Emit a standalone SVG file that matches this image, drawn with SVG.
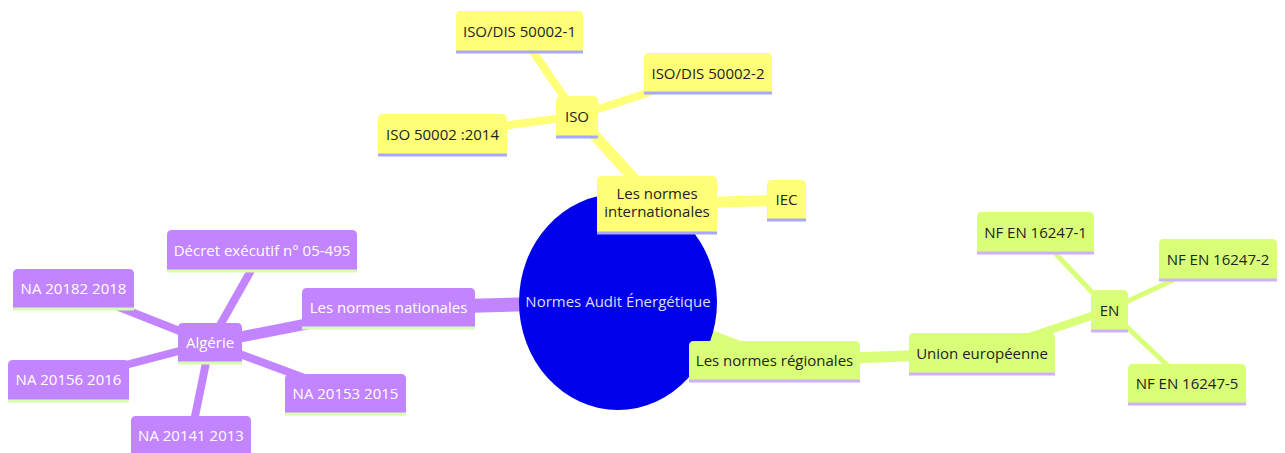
<svg xmlns="http://www.w3.org/2000/svg" width="1285" height="453" viewBox="0 0 1285 453">
<style>
text{font-family:"Open Sans","Noto Sans","Liberation Sans",sans-serif;font-size:15px;text-anchor:middle}
.y{fill:#ffff78}.g{fill:#d9ff78}.p{fill:#c385ff}
.ly{stroke:#a8a8ff;stroke-width:3}.lg{stroke:#cdb0ff;stroke-width:3}.lp{stroke:#d6ffb0;stroke-width:3}
.ty{fill:#222}.tp{fill:#ffffff}
.ey{stroke:#ffff78;fill:none}.eg{stroke:#d9ff78;fill:none}.ep{stroke:#c385ff;fill:none}
.d0{stroke-width:14}.d1{stroke-width:11}.d2{stroke-width:8}.d3{stroke-width:5}
</style>
<g id="edges">
<path class="ey d0" d="M618,302 L657,204"/>
<path class="ey d1" d="M657,204 L577,116"/>
<path class="ey d1" d="M657,204 L786,200"/>
<path class="ey d2" d="M577,116 L519,31"/>
<path class="ey d2" d="M577,116 L708,73"/>
<path class="ey d2" d="M577,116 L442,134"/>
<path class="ep d0" d="M618,302 L388,308"/>
<path class="ep d1" d="M388,308 L210,343"/>
<path class="ep d2" d="M210,343 L262,251"/>
<path class="ep d2" d="M210,343 L73,289"/>
<path class="ep d2" d="M210,343 L68,380"/>
<path class="ep d2" d="M210,343 L345,393"/>
<path class="ep d2" d="M210,343 L191,436"/>
<path class="eg d0" d="M618,302 L774,361"/>
<path class="eg d1" d="M774,361 L982,353"/>
<path class="eg d2" d="M982,353 L1109,310"/>
<path class="eg d3" d="M1109,310 L1035,232"/>
<path class="eg d3" d="M1109,310 L1218,259"/>
<path class="eg d3" d="M1109,310 L1187,384"/>
</g>
<g id="root"><ellipse cx="618" cy="302" rx="99" ry="108" fill="#0000ea"/><text x="618" y="307" fill="#dcdcff">Normes Audit Énergétique</text></g>
<g id="n-intl" transform="translate(597,176)"><path class="y" d="M0 52 v-47 q0,-5 5,-5 h110 q5,0 5,5 v52 H0 Z"/><line class="ly" x1="0" y1="57" x2="120" y2="57"/><text class="ty" x="60" y="23">Les normes</text><text class="ty" x="60" y="41">internationales</text></g>
<g id="n-iso" transform="translate(556,96)"><path class="y" d="M0 36 v-31 q0,-5 5,-5 h32 q5,0 5,5 v36 H0 Z"/><line class="ly" x1="0" y1="41" x2="42" y2="41"/><text class="ty" x="21" y="26">ISO</text></g>
<g id="n-dis1" transform="translate(456,11)"><path class="y" d="M0 36 v-31 q0,-5 5,-5 h117 q5,0 5,5 v36 H0 Z"/><line class="ly" x1="0" y1="41" x2="127" y2="41"/><text class="ty" x="63.5" y="26">ISO/DIS 50002-1</text></g>
<g id="n-dis2" transform="translate(644,53)"><path class="y" d="M0 35 v-30 q0,-5 5,-5 h118 q5,0 5,5 v35 H0 Z"/><line class="ly" x1="0" y1="40" x2="128" y2="40"/><text class="ty" x="64" y="26">ISO/DIS 50002-2</text></g>
<g id="n-iso2014" transform="translate(378,114)"><path class="y" d="M0 36 v-31 q0,-5 5,-5 h119 q5,0 5,5 v36 H0 Z"/><line class="ly" x1="0" y1="41" x2="129" y2="41"/><text class="ty" x="64.5" y="26">ISO 50002 :2014</text></g>
<g id="n-iec" transform="translate(767,180)"><path class="y" d="M0 35 v-30 q0,-5 5,-5 h29 q5,0 5,5 v35 H0 Z"/><line class="ly" x1="0" y1="40" x2="39" y2="40"/><text class="ty" x="19.5" y="25">IEC</text></g>
<g id="n-nat" transform="translate(302,288)"><path class="p" d="M0 35 v-30 q0,-5 5,-5 h163 q5,0 5,5 v35 H0 Z"/><line class="lp" x1="0" y1="40" x2="173" y2="40"/><text class="tp" x="86.5" y="25">Les normes nationales</text></g>
<g id="n-alg" transform="translate(178,323)"><path class="p" d="M0 35 v-30 q0,-5 5,-5 h54 q5,0 5,5 v35 H0 Z"/><line class="lp" x1="0" y1="40" x2="64" y2="40"/><text class="tp" x="32" y="25">Algérie</text></g>
<g id="n-decret" transform="translate(167,230)"><path class="p" d="M0 36 v-31 q0,-5 5,-5 h180 q5,0 5,5 v36 H0 Z"/><line class="lp" x1="0" y1="41" x2="190" y2="41"/><text class="tp" x="95" y="26">Décret exécutif n° 05-495</text></g>
<g id="n-na20182" transform="translate(13,269)"><path class="p" d="M0 35 v-30 q0,-5 5,-5 h111 q5,0 5,5 v35 H0 Z"/><line class="lp" x1="0" y1="40" x2="121" y2="40"/><text class="tp" x="60.5" y="25">NA 20182 2018</text></g>
<g id="n-na20156" transform="translate(8,360)"><path class="p" d="M0 36 v-31 q0,-5 5,-5 h111 q5,0 5,5 v36 H0 Z"/><line class="lp" x1="0" y1="41" x2="121" y2="41"/><text class="tp" x="60.5" y="25">NA 20156 2016</text></g>
<g id="n-na20153" transform="translate(285,374)"><path class="p" d="M0 35 v-30 q0,-5 5,-5 h111 q5,0 5,5 v35 H0 Z"/><line class="lp" x1="0" y1="40" x2="121" y2="40"/><text class="tp" x="60.5" y="25">NA 20153 2015</text></g>
<g id="n-na20141" transform="translate(131,416)"><path class="p" d="M0 35 v-30 q0,-5 5,-5 h110 q5,0 5,5 v35 H0 Z"/><line class="lp" x1="0" y1="40" x2="120" y2="40"/><text class="tp" x="60" y="25">NA 20141 2013</text></g>
<g id="n-reg" transform="translate(689,341)"><path class="g" d="M0 35 v-30 q0,-5 5,-5 h161 q5,0 5,5 v35 H0 Z"/><line class="lg" x1="0" y1="40" x2="171" y2="40"/><text class="ty" x="85.5" y="25">Les normes régionales</text></g>
<g id="n-ue" transform="translate(909,333)"><path class="g" d="M0 36 v-31 q0,-5 5,-5 h136 q5,0 5,5 v36 H0 Z"/><line class="lg" x1="0" y1="41" x2="146" y2="41"/><text class="ty" x="73" y="26">Union européenne</text></g>
<g id="n-en" transform="translate(1091,290)"><path class="g" d="M0 36 v-31 q0,-5 5,-5 h27 q5,0 5,5 v36 H0 Z"/><line class="lg" x1="0" y1="41" x2="37" y2="41"/><text class="ty" x="18.5" y="26">EN</text></g>
<g id="n-nf1" transform="translate(977,212)"><path class="g" d="M0 36 v-31 q0,-5 5,-5 h107 q5,0 5,5 v36 H0 Z"/><line class="lg" x1="0" y1="41" x2="117" y2="41"/><text class="ty" x="58.5" y="26">NF EN 16247-1</text></g>
<g id="n-nf2" transform="translate(1159,239)"><path class="g" d="M0 36 v-31 q0,-5 5,-5 h108 q5,0 5,5 v36 H0 Z"/><line class="lg" x1="0" y1="41" x2="118" y2="41"/><text class="ty" x="59" y="26">NF EN 16247-2</text></g>
<g id="n-nf5" transform="translate(1128,364)"><path class="g" d="M0 35 v-30 q0,-5 5,-5 h108 q5,0 5,5 v35 H0 Z"/><line class="lg" x1="0" y1="40" x2="118" y2="40"/><text class="ty" x="59" y="25">NF EN 16247-5</text></g>
</svg>
